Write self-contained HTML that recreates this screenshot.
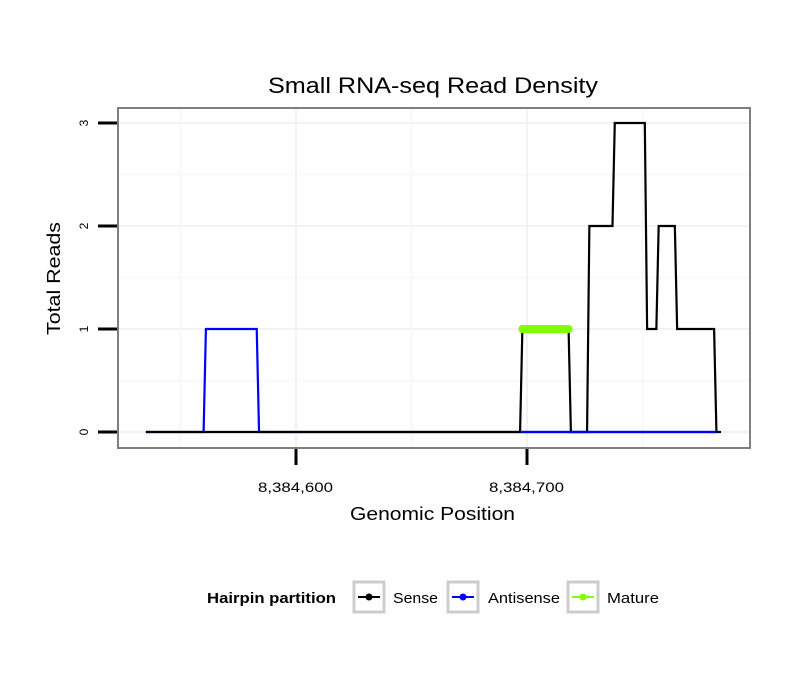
<!DOCTYPE html>
<html><head><meta charset="utf-8"><style>
body{margin:0;background:#fff;font-family:"Liberation Sans",sans-serif}
svg text{font-family:"Liberation Sans",sans-serif}
</style></head><body>
<svg id="chart" width="810" height="690" xmlns="http://www.w3.org/2000/svg">
<rect width="810" height="690" fill="#fff"/>
<text x="268" y="93" font-size="22" textLength="330" lengthAdjust="spacingAndGlyphs">Small RNA-seq Read Density</text>
<g id="grid"></g>
<g id="series"></g>
<rect x="118" y="108" width="632" height="340" fill="none" stroke="#7f7f7f" stroke-width="2"/>
<g id="axes"></g>
<text x="350" y="520" font-size="18" textLength="165" lengthAdjust="spacingAndGlyphs">Genomic Position</text>
<text transform="translate(60,335) rotate(-90)" font-size="18" textLength="113" lengthAdjust="spacingAndGlyphs">Total Reads</text>
<g>
<text x="207" y="603" font-size="14.5" font-weight="bold" textLength="129" lengthAdjust="spacingAndGlyphs">Hairpin partition</text>
<g>
<rect x="354" y="582" width="30" height="30" fill="#fff" stroke="#ccc" stroke-width="3"/>
<line x1="358" y1="597" x2="380" y2="597" stroke="#000" stroke-width="2"/><circle cx="369" cy="597" r="3.5" fill="#000"/>
<text x="393" y="603" font-size="14.5" textLength="45" lengthAdjust="spacingAndGlyphs">Sense</text></g>
<g>
<rect x="448" y="582" width="30" height="30" fill="#fff" stroke="#ccc" stroke-width="3"/>
<line x1="452" y1="597" x2="474" y2="597" stroke="#0000ff" stroke-width="2"/><circle cx="463" cy="597" r="3.5" fill="#0000ff"/>
<text x="488" y="603" font-size="14.5" textLength="72" lengthAdjust="spacingAndGlyphs">Antisense</text></g>
<g>
<rect x="568" y="582" width="30" height="30" fill="#fff" stroke="#ccc" stroke-width="3"/>
<line x1="572" y1="597" x2="594" y2="597" stroke="#7fff00" stroke-width="2"/><circle cx="583" cy="597" r="3.5" fill="#7fff00"/>
<text x="607" y="603" font-size="14.5" textLength="52" lengthAdjust="spacingAndGlyphs">Mature</text></g>
</g>
</svg>
<script>
const xTicks = [8384600, 8384700];
const xTickLabels = ["8,384,600", "8,384,700"];
const yTicks = [0, 1, 2, 3];
const senseX = [8384535,8384697,8384698,8384718,8384719,8384726,8384727,8384737,8384738,8384751,8384752,8384756,8384757,8384764,8384765,8384781,8384782,8384784];
const senseY = [0,0,1,1,0,0,2,2,3,3,1,1,2,2,1,1,0,0];
const antiX = [8384535,8384560,8384561,8384583,8384584,8384782];
const antiY = [0,0,1,1,0,0];
const matureX = [8384698,8384718];
const matureY = [1,1];
const X0 = 8384600, PX0 = 296, PXPB = 2.31;
function sx(v){return PX0 + (v - X0) * PXPB;}
function sy(v){return 432 - v * 103;}
const NS = "http://www.w3.org/2000/svg";
function mk(tag, attrs, parent){const e=document.createElementNS(NS,tag);for(const k in attrs)e.setAttribute(k,attrs[k]);parent.appendChild(e);return e;}
const grid=document.getElementById('grid'), axes=document.getElementById('axes'), series=document.getElementById('series');
mk('rect',{x:118,y:108,width:632,height:340,fill:'#fff'},grid);
for(let v=-0.5; v<=3.5; v+=0.5){const y=sy(v); if(y<108||y>448) continue;
 const l=mk('line',{x1:118,x2:750,y1:y,y2:y,stroke:(v%1===0)?'#f2f2f2':'#f7f7f7','stroke-width':(v%1===0)?2:1.5},grid);
 
 }
for(let v=8384550; v<=8384800; v+=50){const x=sx(v); if(x<118||x>750) continue;
 const l=mk('line',{x1:x,x2:x,y1:108,y2:448,stroke:(v%100===0)?'#f2f2f2':'#f7f7f7','stroke-width':(v%100===0)?2:1.5},grid);
 
 }
yTicks.forEach(v=>{const y=sy(v);
 const t=mk('line',{x1:98,x2:117,y1:y,y2:y,stroke:'#000','stroke-width':3},axes);
 
 
 const tx=mk('text',{transform:`translate(88,${y}) rotate(-90)`,'font-size':12,'text-anchor':'middle'},axes);
 tx.textContent=String(v);
 
 });
xTicks.forEach((v,i)=>{const x=sx(v);
 const t=mk('line',{x1:x,x2:x,y1:449,y2:465,stroke:'#000','stroke-width':3},axes);
 
 
 const tx=mk('text',{x:x-38,y:492,'font-size':14,textLength:75,lengthAdjust:'spacingAndGlyphs'},axes);
 tx.textContent=xTickLabels[i];
 
 });
function pts(xs,ys){return xs.map((v,i)=>sx(v)+','+sy(ys[i])).join(' ');}
const a=mk('polyline',{points:pts(antiX,antiY),fill:'none',stroke:'#0000ff','stroke-width':2.2},series);


const s=mk('polyline',{points:pts(senseX,senseY),fill:'none',stroke:'#000','stroke-width':2.2},series);


const bl=mk('polyline',{points:sx(8384697.5)+','+sy(0)+' '+sx(antiX[5])+','+sy(0),fill:'none',stroke:'#0000ff','stroke-width':2.2},series);


const m=mk('polyline',{points:pts(matureX,matureY),fill:'none',stroke:'#7fff00','stroke-width':8,'stroke-linecap':'round'},series);


</script>
</body></html>
